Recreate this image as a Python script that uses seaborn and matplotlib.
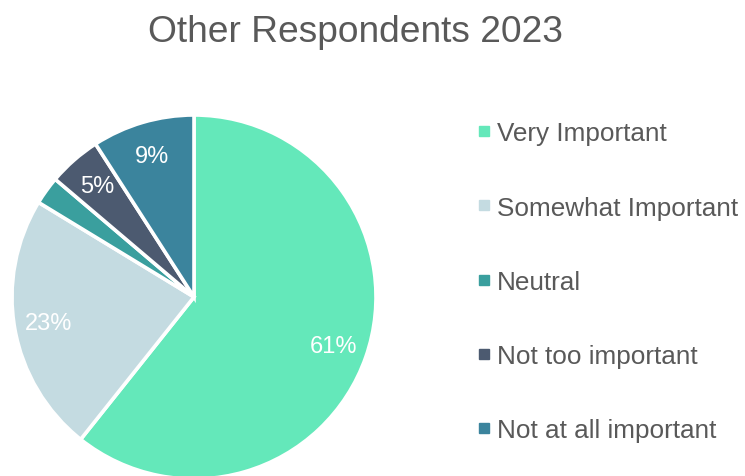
import matplotlib
matplotlib.use("Agg")
import matplotlib.pyplot as plt
from matplotlib.lines import Line2D
import seaborn as sns

# Survey answers, shares in percent
categories = ["Very Important", "Somewhat Important", "Neutral",
              "Not too important", "Not at all important"]
shares = [60.7, 23.0, 2.5, 4.7, 9.1]
slice_colors = ["#64E8BA", "#C4DBE1", "#3A9F9E", "#4C5A70", "#3B849D"]
title_text = "Other Respondents 2023"

sns.set_theme(style="white")
plt.rcParams["font.family"] = ["Liberation Sans", "DejaVu Sans"]
palette = sns.color_palette(slice_colors)

W, H = 745, 477
fig = plt.figure(figsize=(W / 100, H / 100), dpi=100)
fig.patch.set_facecolor("white")

cx, cy, r = 194, 298, 182
ax = fig.add_axes([(cx - r) / W, (H - cy - r) / H, 2 * r / W, 2 * r / H])
ax.set_facecolor("none")


def pct_label(p):
    return f"{p:.0f}%" if p >= 4 else ""


wedges, _, autotexts = ax.pie(
    shares,
    colors=palette,
    startangle=90,
    counterclock=False,
    autopct=pct_label,
    pctdistance=0.81,
    wedgeprops=dict(edgecolor="white", linewidth=2.6),
    textprops=dict(color="white", fontsize=17),
)
for w in wedges:
    w.set_clip_on(False)
ax.set_xlim(-1, 1)
ax.set_ylim(-1, 1)
ax.axis("off")

fig.text(355 / W, 1 - 33 / H, title_text, ha="center", va="center",
         fontsize=26.7, color="#595959")

handles = [Line2D([], [], marker="s", linestyle="none", markersize=7,
                  markerfacecolor=c, markeredgecolor=c) for c in palette]
fig.legend(handles, categories, loc="upper left",
           bbox_to_anchor=(467 / W, 1 - 112 / H), frameon=False,
           fontsize=18.8, labelcolor="#595959", labelspacing=1.92,
           handlelength=0.5, handletextpad=0.25, borderaxespad=0)

fig.savefig("out.png", dpi=100, facecolor="white")
